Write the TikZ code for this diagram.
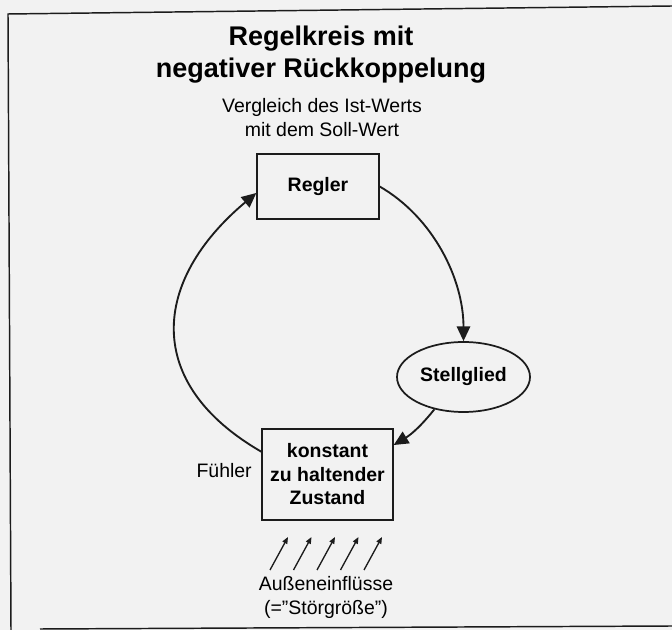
\documentclass[tikz,border=0pt]{standalone}
\usepackage{fontspec}
\setmainfont{Liberation Sans}
\usetikzlibrary{arrows.meta,positioning,shapes.geometric}
\definecolor{rkInk}{HTML}{1C1C1C}
\definecolor{rkPaper}{HTML}{F2F2F2}
\tikzset{
  box/.style={
    draw=rkInk,
    line width=1pt,
    align=center,
    inner sep=0pt,
    font=\bfseries\fontsize{14.6}{17.6}\selectfont
  },
  oval/.style={
    ellipse,
    draw=rkInk,
    line width=1.3pt,
    align=center,
    inner sep=0pt,
    minimum width=99.75pt,
    minimum height=52.5pt,
    font=\bfseries\fontsize{14.6}{17.6}\selectfont
  },
  plain/.style={
    align=center,
    inner sep=0pt,
    font=\fontsize{14.6}{18}\selectfont
  },
  loopflow/.style={-{Triangle[length=11pt,width=10pt]}, line width=1.4pt, draw=rkInk},
  influence/.style={-{Triangle[length=5pt,width=4pt]}, line width=1pt, draw=rkInk}
}

\begin{document}
\begin{tikzpicture}[x=0.75pt, y=0.75pt]
  % page and frame
  \fill[rkPaper] (0,0) rectangle (672,-630);
  \useasboundingbox (0,0) rectangle (672,-630);
  \draw[rkInk, line width=1.1pt] (672,-6) -- (8,-14) -- (11,-630);
  \draw[rkInk, line width=1.1pt] (40,-629) -- (672,-626);

  \node[align=center, inner sep=0pt, font=\bfseries\fontsize{20.25}{24}\selectfont] (titel) at (321,-55) {Regelkreis mit\\negativer Rückkoppelung};
  \node[plain] (vergleich) at (322,-118) {Vergleich des Ist-Werts\\mit dem Soll-Wert};

  \node[box, minimum width=91.5pt, minimum height=48.75pt] (regler) at (318,-186.5) {Regler};
  \node[oval] (stellglied) at (463.5,-377) {Stellglied};
  \node[box, minimum width=98.25pt, minimum height=68.25pt] (zustand) at (327.5,-474.5) {konstant\\zu haltender\\Zustand};
  \node[plain, left=7pt of zustand, yshift=3pt] (fuehler) {Fühler};
  \node[plain] (aussen) at (326,-597) {Außeneinflüsse\\(=\char"22 Störgröße\char"22)};

  \draw[loopflow] (regler.east) to[out=-30, in=90, looseness=0.9] (stellglied.north);
  \draw[loopflow] (stellglied.228) to[bend left=10] (zustand.24);
  \draw[loopflow] (zustand.161) to[out=150, in=-140, looseness=1.35] (regler.186);

  \foreach \i in {0,...,4} {
    \coordinate (stoerA\i) at (270+23.5*\i,-570);
    \coordinate (stoerB\i) at (288+23.5*\i,-537);
    \draw[influence] (stoerA\i) -- (stoerB\i);
  }
\end{tikzpicture}
\end{document}
